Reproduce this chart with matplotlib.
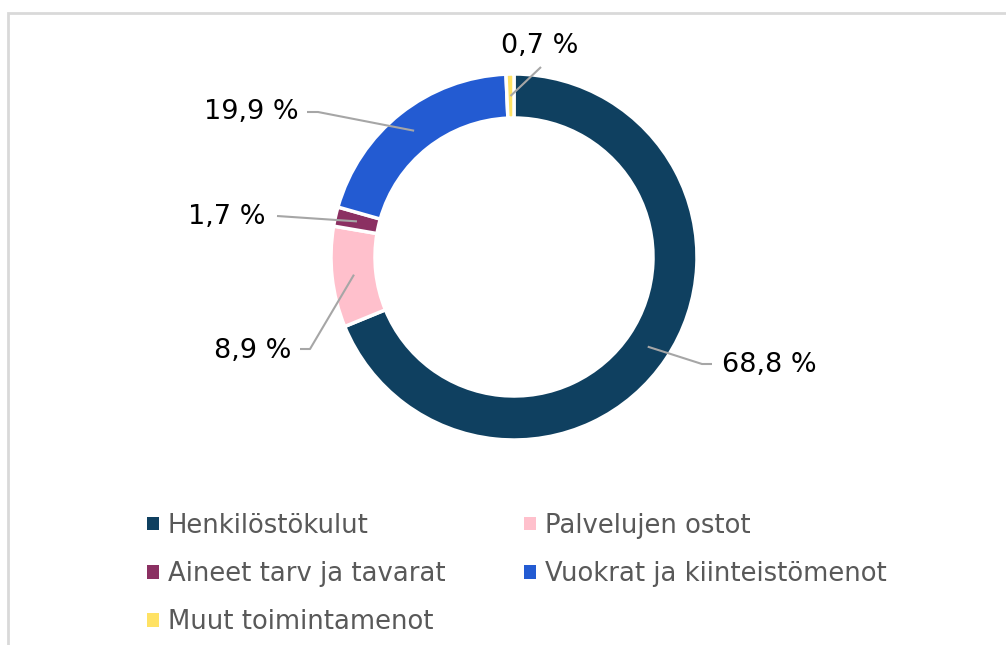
import numpy as np
import matplotlib.pyplot as plt
from matplotlib.patches import Patch, Rectangle

categories = ["Henkilöstökulut", "Palvelujen ostot", "Aineet tarv ja tavarat",
              "Vuokrat ja kiinteistömenot", "Muut toimintamenot"]
shares = [68.8, 8.9, 1.7, 19.9, 0.7]
colors = ["#0f4060", "#ffc0cc", "#8b3062", "#235bd2", "#ffe264"]

W, H = 1006, 645
fig = plt.figure(figsize=(W / 100, H / 100), dpi=100)
ax = fig.add_axes([0, 0, 1, 1])

cx, cy, R = 514, H - 257, 183
ring = 44 / R
wedges, _ = ax.pie(shares, colors=colors, startangle=90, counterclock=False,
                   center=(cx, cy), radius=R,
                   wedgeprops=dict(width=ring * R, edgecolor="white", linewidth=2.5))
ax.set_xlim(0, W)
ax.set_ylim(0, H)
ax.set_aspect("equal")
ax.axis("off")

# label layout: (elbow x, elbow y, end x, end y, text x, text y, ha) in pixels
layout = [
    (702, 364, 712, 364, 722, 365, "left"),
    (310, 349, 300, 349, 291, 351, "right"),
    (277, 216, 277, 216, 266, 217, "right"),
    (318, 112, 307, 112, 299, 112, "right"),
    (541, 67, 541, 67, 540, 46, "center"),
]
rmid = R * (1 - ring / 2)
for w, v, (ex, ey, qx, qy, tx, ty, ha) in zip(wedges, shares, layout):
    ang = np.deg2rad((w.theta1 + w.theta2) / 2)
    sx, sy = cx + rmid * np.cos(ang), cy + rmid * np.sin(ang)
    ax.plot([sx, ex, qx], [sy, H - ey, H - qy], color="#a6a6a6", lw=1.5,
            solid_capstyle="butt")
    ax.text(tx, H - ty, f"{v:.1f} %".replace(".", ","), ha=ha, va="center",
            fontsize=19.5, color="black")

order = [0, 2, 4, 1, 3]
handles = [Patch(facecolor=colors[i], edgecolor="none") for i in order]
fig.legend(handles, [categories[i] for i in order], ncol=2,
           loc="center left", bbox_to_anchor=(124 / W, 1 - 574 / H),
           frameon=False, fontsize=18.6, labelcolor="#595959",
           handlelength=0.44, handleheight=0.44, handletextpad=0.36,
           labelspacing=0.86, columnspacing=3.05)

fig.add_artist(Rectangle((8 / W, -0.1), 1.1, 1 - 13 / H + 0.1,
                         transform=fig.transFigure, fill=False,
                         edgecolor="#d9d9d9", lw=2))

fig.savefig("out.png", dpi=100)
